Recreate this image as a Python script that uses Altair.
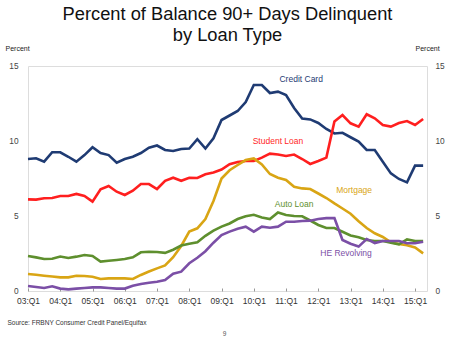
import altair as alt
import pandas as pd

# Quarterly data, 03:Q1 .. 15:Q2 (percent of balance 90+ days delinquent)
credit_card = [8.8, 8.85, 8.62, 9.25, 9.25, 8.95, 8.62, 9.06, 9.58, 9.2,
               9.06, 8.56, 8.8, 8.95, 9.2, 9.55, 9.7, 9.4, 9.33, 9.47,
               9.5, 10.12, 9.5, 10.18, 11.4, 11.7, 12.0, 12.6, 13.73, 13.73,
               13.2, 13.29, 13.07, 12.2, 11.5, 11.44, 11.2, 10.8, 10.5, 10.55,
               10.25, 9.96, 9.4, 9.4, 8.62, 7.84, 7.47, 7.24, 8.36, 8.36]
student_loan = [6.11, 6.09, 6.18, 6.2, 6.33, 6.33, 6.47, 6.33, 5.96, 6.78,
                7.0, 6.62, 6.4, 6.69, 7.13, 7.13, 6.8, 7.35, 7.55, 7.35,
                7.55, 7.53, 7.78, 7.9, 8.1, 8.45, 8.6, 8.67, 8.67, 8.89,
                9.16, 9.1, 9.0, 9.1, 8.8, 8.47, 8.67, 8.89, 11.3, 11.73,
                11.18, 10.96, 11.78, 11.51, 11.07, 10.96, 11.2, 11.33, 11.07, 11.47]
mortgage = [1.13, 1.08, 1.02, 0.97, 0.91, 0.91, 1.02, 1.0, 0.95, 0.8,
            0.84, 0.84, 0.84, 0.8, 1.07, 1.3, 1.51, 1.7, 2.25, 3.0,
            3.96, 4.18, 4.8, 6.0, 7.5, 8.05, 8.4, 8.73, 8.84, 8.44,
            7.8, 7.55, 7.4, 6.95, 6.84, 6.8, 6.5, 6.2, 5.84, 5.5,
            5.15, 4.65, 4.2, 3.85, 3.6, 3.25, 3.13, 3.05, 2.9, 2.51]
auto_loan = [2.33, 2.24, 2.13, 2.15, 2.3, 2.2, 2.29, 2.4, 2.33, 1.96,
             2.02, 2.07, 2.13, 2.25, 2.58, 2.62, 2.6, 2.54, 2.75, 3.03,
             3.15, 3.25, 3.68, 4.02, 4.29, 4.5, 4.8, 4.98, 5.08, 4.9,
             4.8, 5.23, 5.07, 5.0, 4.98, 4.7, 4.4, 4.2, 4.2, 3.95,
             3.7, 3.58, 3.4, 3.33, 3.33, 3.22, 3.11, 3.44, 3.33, 3.33]
he_revolving = [0.33, 0.27, 0.2, 0.31, 0.16, 0.11, 0.16, 0.2, 0.24, 0.24,
                0.2, 0.16, 0.16, 0.35, 0.47, 0.55, 0.62, 0.73, 1.15, 1.29,
                1.85, 2.22, 2.65, 3.22, 3.73, 3.96, 4.15, 4.29, 3.96, 4.29,
                4.22, 4.29, 4.62, 4.62, 4.67, 4.69, 4.8, 4.86, 4.86, 3.4,
                3.15, 2.96, 3.47, 3.2, 3.33, 3.33, 3.33, 3.18, 3.18, 3.29]

series_names = ["Credit Card", "Student Loan", "Mortgage", "Auto Loan", "HE Revolving"]
series_colors = ["#1F3B73", "#FF1F1F", "#D9A514", "#5E8F2E", "#7B4FA6"]
series_values = [credit_card, student_loan, mortgage, auto_loan, he_revolving]

# label placement (in data units: year, percent)
label_x = [2011.47, 2010.75, 2013.11, 2011.25, 2012.86]
label_y = [14.13, 10.0, 6.73, 5.8, 2.53]

year_ticks = list(range(2003, 2016))
y_ticks = [0, 5, 10, 15]

rows = []
for name, vals in zip(series_names, series_values):
    for i, v in enumerate(vals):
        rows.append({"series": name, "t": 2003 + i * 0.25, "value": v})
df = pd.DataFrame(rows)
labels = pd.DataFrame({"series": series_names, "t": label_x, "value": label_y})

FONT = "Liberation Sans"
xscale = alt.Scale(domain=[2003, 2015.37], nice=False, zero=False)
yscale = alt.Scale(domain=[0, 15], nice=False)
color = alt.Color("series:N", scale=alt.Scale(domain=series_names, range=series_colors), legend=None)

lines = alt.Chart(df).mark_line(strokeWidth=2.6).encode(
    x=alt.X("t:Q", scale=xscale,
            axis=alt.Axis(values=year_ticks, labelExpr="slice(toString(datum.value), 2) + ':Q1'",
                          labelOverlap=False, labelBound=False, labelFlush=False,
                          title="Source: FRBNY Consumer Credit Panel/Equifax",
                          titleFont=FONT, titleFontSize=6.5, titleFontWeight="normal", titleColor="#333",
                          titleAnchor="start", titleAlign="left", titleBaseline="middle",
                          titleX=-21, titleY=31,
                          grid=False, ticks=False, domain=False, labelFont=FONT,
                          labelFontSize=8.5, labelColor="#333", labelPadding=5)),
    y=alt.Y("value:Q", scale=yscale,
            axis=alt.Axis(values=y_ticks, grid=False, ticks=False, domain=False,
                          title="Percent", titleAngle=0, titleAlign="left", titleBaseline="middle",
                          titleX=-23, titleY=-18, titleFont=FONT, titleFontSize=7,
                          titleFontWeight="normal", titleColor="#222",
                          labelFont=FONT, labelFontSize=8.3, labelColor="#444", labelPadding=10)),
    color=color,
    detail="series:N",
)

texts = alt.Chart(labels).mark_text(font=FONT, fontSize=8.5).encode(
    x=alt.X("t:Q", scale=xscale,
            axis=alt.Axis(orient="top", offset=-225, values=year_ticks, labels=False, grid=False,
                          domain=False, ticks=True, tickSize=3, tickColor="#999", title="9",
                          titleFont=FONT, titleFontSize=6.5, titleFontWeight="normal", titleColor="#555",
                          titleX=196, titleY=42, titleBaseline="middle", titleAngle=0)),
    y=alt.Y("value:Q", scale=yscale,
            axis=alt.Axis(orient="right", values=y_ticks, grid=False, ticks=False, domain=False,
                          title="Percent", titleAngle=0, titleAlign="left", titleBaseline="middle",
                          titleX=-12, titleY=-18, titleFont=FONT, titleFontSize=7,
                          titleFontWeight="normal", titleColor="#222",
                          labelFont=FONT, labelFontSize=8.3, labelColor="#444", labelPadding=8)),
    text="series:N",
    color=color,
)

chart = alt.layer(lines, texts).resolve_axis(x="independent", y="independent").properties(
    width=399, height=225,
    title=alt.TitleParams(["Percent of Balance 90+ Days Delinquent", "by Loan Type"],
                          font=FONT, fontSize=18.3, fontWeight="normal", color="#111",
                          anchor="middle", lineHeight=21, offset=6, dy=7),
    padding={"left": 28, "top": 66, "right": 22, "bottom": 46},
    autosize=alt.AutoSizeParams(type="none"),
).configure_view(stroke="#b5b5b5", strokeWidth=1).configure(background="white")

chart.save("out.html", embed_options={"renderer": "svg", "actions": False})
